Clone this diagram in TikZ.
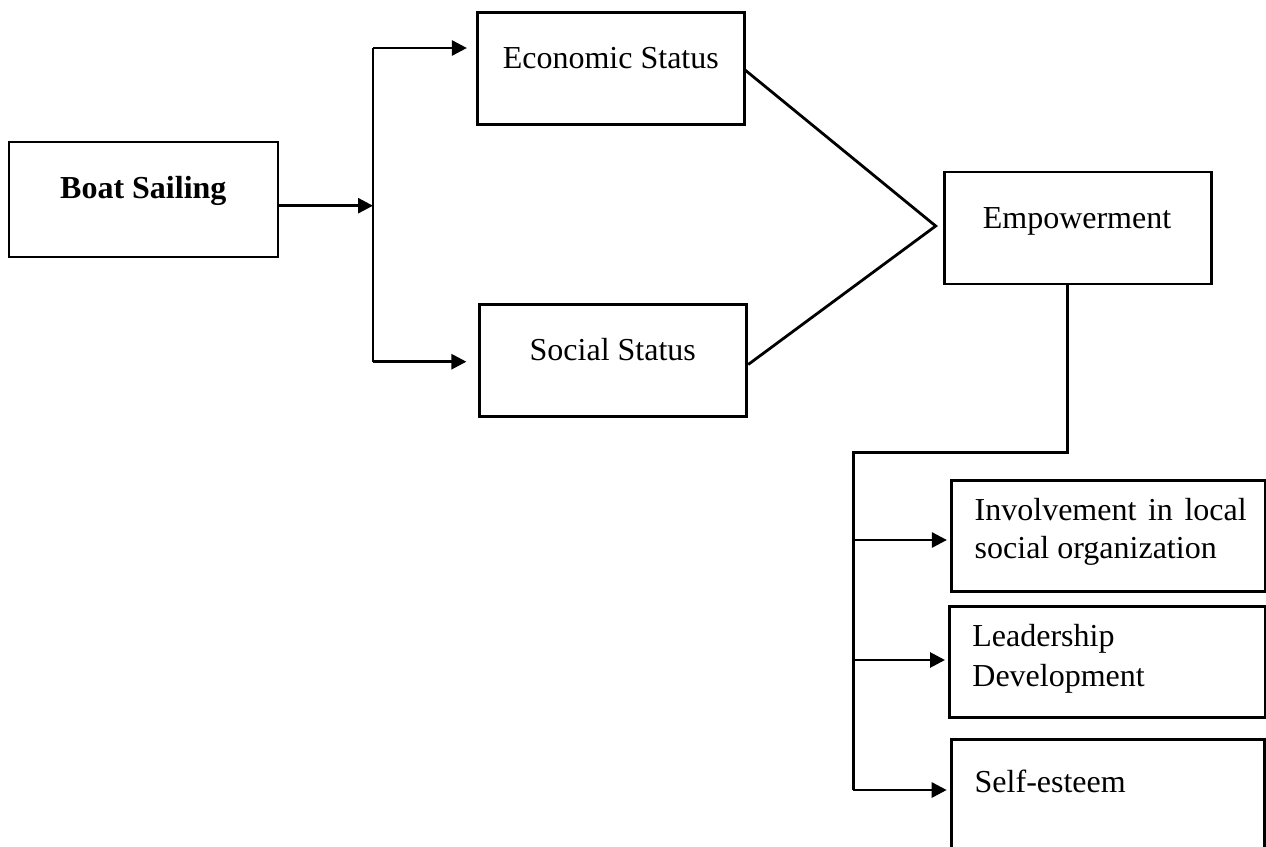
\documentclass[tikz,border=0pt]{standalone}
\usepackage{fontspec}
\setmainfont{Liberation Serif}
\usetikzlibrary{calc}
\usetikzlibrary{arrows.meta}

\def\u{0.5pt}
\tikzset{
  box/.style={draw, rectangle, line width=1.4pt, inner sep=0pt},
  lbl/.style={inner sep=0pt, anchor=base},
  arr/.style={-{Triangle[length=7.5pt,width=7.5pt]}}
}

\begin{document}
\begin{tikzpicture}[x=\u, y=-\u, line width=1.4pt, font=\fontsize{16}{19}\selectfont]
\useasboundingbox (0,0) rectangle (1266,847);

% boxes
\node[box, minimum width=269*\u, minimum height=115*\u] (boat) at (143.5, 199.5) {};
\node[box, minimum width=267*\u, minimum height=112*\u] (econ) at (610.8, 68.3) {};
\node[box, minimum width=267*\u, minimum height=112*\u] (social) at (613.3, 360.5) {};
\node[box, minimum width=267*\u, minimum height=112*\u] (empower) at (1078, 228) {};
\node[box, minimum width=314*\u, minimum height=111*\u] (invol) at (1108.7, 536.2) {};
\node[box, minimum width=316*\u, minimum height=111*\u] (leader) at (1107.8, 662.2) {};
\node[box, minimum width=313*\u, minimum height=121*\u] (self) at (1108, 799.7) {};

% texts
\node[lbl] (boat-t) at (143.3, 198) {\textbf{Boat Sailing}};
\node[lbl] (econ-t) at (610.8, 68) {Economic Status};
\node[lbl] (social-t) at (612.8, 360) {Social Status};
\node[lbl] (empower-t) at (1077, 228.3) {Empowerment};
\node[lbl, anchor=base west] (invol-t) at (973.3, 520)
  {\vtop{\baselineskip=19pt\hbox to 136pt{Involvement\hfill in\hfill local}\hbox{social organization}}};
\node[lbl, anchor=base west] (leader-t) at (971, 646.7)
  {\vtop{\baselineskip=20pt\hbox{Leadership}\hbox{Development}}};
\node[lbl, anchor=base west] (self-t) at (973.3, 792.7) {Self-esteem};

% split after boat sailing
\coordinate (top) at (373, 48);
\coordinate (bot) at (373, 361.7);
\coordinate (mid) at (373, 205.7);
\draw[arr] (boat.east |- mid) -- (mid);
\draw (top) -- (bot);
\draw[arr, shorten >=4.5pt] (top) -- (econ.west |- top);
\draw[arr, shorten >=6pt] (bot) -- (social.west |- bot);

% join into empowerment
\coordinate (join) at (935.7, 226);
\draw ($(econ.east)+(-1.5,1)$) -- (join) -- ($(social.east)+(0,4)$);

% bus to the outcomes
\coordinate (bus) at (853.3, 452.3);
\coordinate (busend) at (853.3, 790);
\draw ($(empower.south)+(-10.3,0)$) |- (bus) -- (busend);
\foreach \b/\y in {invol/540, leader/660, self/790}
  \draw[arr, shorten >=1.7pt] (bus |- 0,\y) -- (\b.west |- 0,\y);
\end{tikzpicture}
\end{document}
